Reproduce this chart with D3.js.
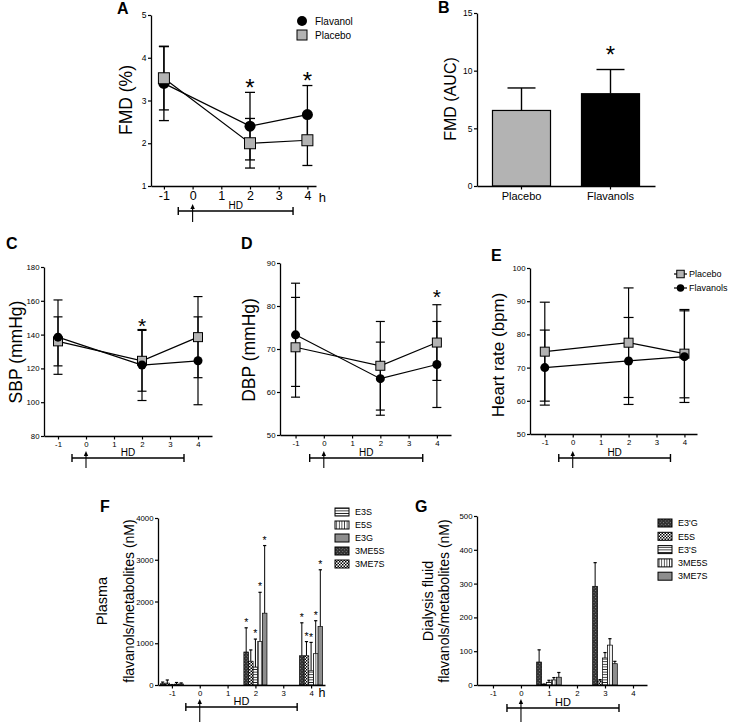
<!DOCTYPE html>
<html><head><meta charset="utf-8">
<script src="https://cdn.jsdelivr.net/npm/d3@7"></script>
<style>body{margin:0;background:#fff} svg{display:block}</style>
</head><body>
<script>
// ===================== DATA =====================
const xTickValues = [-1, 0, 1, 2, 3, 4];
const timePoints = [-1, 2, 4];

// A: FMD (%)
const fmdFlavanol   = [3.40, 2.40, 2.67];
const fmdFlavanolSD = [0.87, 0.79, 0.68];
const fmdPlacebo    = [3.52, 2.00, 2.07];
const fmdPlaceboSD  = [0.74, 0.58, 0.59];
const fmdSigTimes   = [2, 4];
const fmdYTicks     = [1, 2, 3, 4, 5];

// B: FMD (AUC)
const aucGroups = ["Placebo", "Flavanols"];
const aucValues = [6.55, 8.0];
const aucSD     = [1.95, 2.1];
const aucSig    = ["Flavanols"];
const aucYTicks = [0, 5, 10, 15];

// C: SBP
const sbpFlavanol   = [138.5, 122, 124.5];
const sbpFlavanolSD = [22, 21, 26];
const sbpPlacebo    = [136, 124.5, 138.5];
const sbpPlaceboSD  = [14.5, 18, 24];
const sbpSigTimes   = [2];
const sbpYTicks     = [80, 100, 120, 140, 160, 180];

// D: DBP
const dbpFlavanol   = [73.3, 63.1, 66.4];
const dbpFlavanolSD = [12, 8.5, 10];
const dbpPlacebo    = [70.4, 66.1, 71.5];
const dbpPlaceboSD  = [11.6, 10.3, 8.8];
const dbpSigTimes   = [4];
const dbpYTicks     = [50, 60, 70, 80, 90];

// E: Heart rate
const hrFlavanol   = [70, 72, 73.3];
const hrFlavanolSD = [11.3, 13.1, 13.8];
const hrPlacebo    = [74.8, 77.5, 74.2];
const hrPlaceboSD  = [14.9, 16.5, 13.3];
const hrSigTimes   = [];
const hrYTicks     = [50, 60, 70, 80, 90, 100];

// F: Plasma flavanols/metabolites
const plasmaTimes    = [-1, 2, 4];
const plasmaSeries   = ["E3S", "E5S", "E3G", "3ME5S", "3ME7S"];
const plasmaBarOrder = ["3ME5S", "3ME7S", "E3S", "E5S", "E3G"];
const plasmaE3S     = [3, 430, 340];    const plasmaE3SSD   = [8, 670, 680];
const plasmaE5S     = [20, 1040, 750];  const plasmaE5SSD   = [40, 1180, 790];
const plasmaE3G     = [25, 1720, 1400]; const plasmaE3GSD   = [25, 1620, 1360];
const plasma3ME5S   = [30, 790, 700];   const plasma3ME5SSD = [40, 580, 790];
const plasma3ME7S   = [45, 570, 700];   const plasma3ME7SSD = [75, 270, 340];
const plasmaSig = [[2,"3ME5S"],[2,"E3S"],[2,"E5S"],[2,"E3G"],[4,"3ME5S"],[4,"3ME7S"],[4,"E3S"],[4,"E5S"],[4,"E3G"]];
const plasmaYTicks = [0, 1000, 2000, 3000, 4000];

// G: Dialysis fluid flavanols/metabolites
const dialysisTimes  = [1, 3];
const dialysisSeries = ["E3'G", "E5S", "E3'S", "3ME5S", "3ME7S"];
const dialysisE3G   = [68, 292];  const dialysisE3GSD   = [36, 70];
const dialysisE5S   = [2, 12];    const dialysisE5SSD   = [1, 4];
const dialysisE3S   = [8, 80];    const dialysisE3SSD   = [6, 16];
const dialysis3ME5S = [15, 118];  const dialysis3ME5SSD = [7, 19];
const dialysis3ME7S = [23, 63];   const dialysis3ME7SSD = [14, 7];
const dialysisSig = [];
const dialysisYTicks = [0, 100, 200, 300, 400, 500];

// ===================== DRAWING =====================
const W = 734, H = 722;
const FONT = '"Liberation Sans", Arial, Helvetica, sans-serif';
const GRAY = '#b3b3b3';
const svg = d3.select("body").append("svg").attr("width", W).attr("height", H)
  .attr("font-family", FONT);
svg.append("rect").attr("width", W).attr("height", H).attr("fill", "#fff");

// patterns
const defs = svg.append("defs");
function pat(id, w, h, rot) {
  const p = defs.append("pattern").attr("id", id).attr("patternUnits", "userSpaceOnUse")
    .attr("width", w).attr("height", h);
  if (rot) p.attr("patternTransform", `rotate(${rot})`);
  return p;
}
let p = pat("hlines", 4, 2.6);
p.append("rect").attr("width", 4).attr("height", 2.6).attr("fill", "#fff");
p.append("line").attr("x1", 0).attr("x2", 4).attr("y1", 1.3).attr("y2", 1.3).attr("stroke", "#000").attr("stroke-width", 0.8);
p = pat("vlines", 2.6, 4);
p.append("rect").attr("width", 2.6).attr("height", 4).attr("fill", "#fff");
p.append("line").attr("y1", 0).attr("y2", 4).attr("x1", 1.3).attr("x2", 1.3).attr("stroke", "#000").attr("stroke-width", 0.7);
p = pat("diag", 2, 2, 45);
p.append("rect").attr("width", 2).attr("height", 2).attr("fill", "#c8c8c8");
p.append("line").attr("y1", 0).attr("y2", 2).attr("x1", 1).attr("x2", 1).attr("stroke", "#444").attr("stroke-width", 0.9);
p = pat("cross", 2.4, 2.4, 45);
p.append("rect").attr("width", 2.4).attr("height", 2.4).attr("fill", "#333");
p.append("rect").attr("x", 0.9).attr("y", 0.9).attr("width", 0.7).attr("height", 0.7).attr("fill", "#bbb");
p = pat("checker", 3, 3);
p.append("rect").attr("width", 3).attr("height", 3).attr("fill", "#fff");
p.append("rect").attr("width", 1.5).attr("height", 1.5).attr("fill", "#000");
p.append("rect").attr("x", 1.5).attr("y", 1.5).attr("width", 1.5).attr("height", 1.5).attr("fill", "#000");

function styleAxis(sel, fs) {
  sel.attr("font-family", FONT).attr("font-size", fs);
  sel.select(".domain").attr("stroke", "#000").attr("stroke-width", 1.3);
  sel.selectAll(".tick line").attr("stroke", "#000").attr("stroke-width", 1.2);
  sel.selectAll(".tick text").attr("fill", "#000");
}
function letter(t, x, y) {
  svg.append("text").attr("x", x).attr("y", y).attr("font-size", 16).attr("font-weight", "bold").text(t);
}
function yLabel(t, x, y, fs) {
  svg.append("text").attr("transform", `translate(${x},${y}) rotate(-90)`)
    .attr("text-anchor", "middle").attr("dominant-baseline", "central")
    .attr("font-size", fs).text(t);
}
function asterisk(cx, cy, fs) {
  svg.append("text").attr("x", cx).attr("y", cy + 0.585 * fs).attr("text-anchor", "middle")
    .attr("font-size", fs).text("*");
}
function marker(shape, cx, cy, size) {
  if (shape === "circle")
    svg.append("circle").attr("cx", cx).attr("cy", cy).attr("r", size / 2).attr("fill", "#000");
  else
    svg.append("rect").attr("x", cx - size / 2).attr("y", cy - size / 2).attr("width", size).attr("height", size)
      .attr("fill", GRAY).attr("stroke", "#000").attr("stroke-width", 1);
}
function hdBracket(x, yb, tipY, botY, fs) {
  const x0 = x(-0.5), x1 = x(3.5), xa = x(0);
  const g = svg.append("g").attr("stroke", "#000").attr("stroke-width", 1.4);
  g.append("line").attr("x1", x0).attr("x2", x1).attr("y1", yb).attr("y2", yb);
  g.append("line").attr("x1", x0).attr("x2", x0).attr("y1", yb - 4).attr("y2", yb + 4);
  g.append("line").attr("x1", x1).attr("x2", x1).attr("y1", yb - 4).attr("y2", yb + 4);
  g.append("line").attr("x1", xa).attr("x2", xa).attr("y1", botY).attr("y2", tipY + 3).attr("stroke-width", 1.1);
  svg.append("path").attr("d", `M${xa},${tipY}L${xa - 2.2},${tipY + 5}L${xa + 2.2},${tipY + 5}Z`).attr("fill", "#000");
  svg.append("text").attr("x", x(1.5)).attr("y", yb - 2.5).attr("text-anchor", "middle").attr("font-size", fs).text("HD");
}

function linePanel(o) {
  const x = d3.scaleLinear().domain(o.xDomain).range(o.xRange);
  const y = d3.scaleLinear().domain(o.yDomain).range(o.yRange);
  const ya = svg.append("g").attr("transform", `translate(${o.xRange[0]},0)`)
    .call(d3.axisLeft(y).tickValues(o.yTicks).tickSize(3).tickSizeOuter(0).tickPadding(1.5).tickFormat(d3.format("d")));
  styleAxis(ya, o.yTickFs);
  const xa = svg.append("g").attr("transform", `translate(0,${o.yRange[0]})`)
    .call(d3.axisBottom(x).tickValues(xTickValues).tickSize(3.5).tickSizeOuter(0).tickPadding(o.xTickPad).tickFormat(d => String(d)));
  styleAxis(xa, o.xTickFs);
  const lineGen = d3.line().x((d, i) => x(timePoints[i])).y(d => y(d));
  o.series.forEach(s => {
    svg.append("path").datum(s.vals).attr("d", lineGen).attr("fill", "none").attr("stroke", "#000").attr("stroke-width", 1.2);
  });
  const eg = svg.append("g").attr("stroke", "#000").attr("stroke-width", o.ew);
  o.series.forEach(s => {
    s.vals.forEach((v, i) => {
      const cx = x(timePoints[i]), y1 = y(v + s.sd[i]), y0 = y(v - s.sd[i]);
      eg.append("line").attr("x1", cx).attr("x2", cx).attr("y1", y0).attr("y2", y1);
      [y0, y1].forEach(yy => eg.append("line").attr("x1", cx - o.cap / 2).attr("x2", cx + o.cap / 2).attr("y1", yy).attr("y2", yy));
    });
  });
  o.series.forEach(s => s.vals.forEach((v, i) => marker(s.shape, x(timePoints[i]), y(v), s.shape === "circle" ? o.cSize : o.sSize)));
  o.sigTimes.forEach(t => {
    const i = timePoints.indexOf(t);
    const top = d3.max(o.series, s => s.vals[i] + s.sd[i]);
    asterisk(x(t), y(top) - o.sigOff, o.sigFs);
  });
  return { x, y };
}

// ---------- Panel A ----------
{
  const { x } = linePanel({
    xDomain: [-1.45, 4.3], xRange: [151, 316], yDomain: [1, 5], yRange: [186, 15],
    yTicks: fmdYTicks, yTickFs: 8.5, xTickFs: 12.5, xTickPad: 2,
    series: [
      { vals: fmdFlavanol, sd: fmdFlavanolSD, shape: "circle" },
      { vals: fmdPlacebo, sd: fmdPlaceboSD, shape: "square" }
    ],
    cap: 10, ew: 1.3, cSize: 11, sSize: 11, sigTimes: fmdSigTimes, sigOff: 10.5, sigFs: 24
  });
  svg.append("text").attr("x", x(4) + 15).attr("y", 202).attr("text-anchor", "middle").attr("font-size", 13).text("h");
  hdBracket(x, 211, 204, 222, 10);
  letter("A", 117, 14);
  yLabel("FMD (%)", 126, 100, 17.5);
  marker("circle", 302, 21, 10);
  svg.append("text").attr("x", 315).attr("y", 24.5).attr("font-size", 10).text("Flavanol");
  marker("square", 302, 35, 10);
  svg.append("text").attr("x", 315).attr("y", 38.5).attr("font-size", 10).text("Placebo");
}

// ---------- Panel B ----------
{
  const x = d3.scaleBand().domain(aucGroups).range([477, 655]).paddingInner(0.348).paddingOuter(0.174);
  const y = d3.scaleLinear().domain([0, 15]).range([186, 13]);
  const colors = { "Placebo": GRAY, "Flavanols": "#000" };
  aucGroups.forEach((gname, i) => {
    const cx = x(gname) + x.bandwidth() / 2, top = y(aucValues[i] + aucSD[i]);
    const eg = svg.append("g").attr("stroke", "#000").attr("stroke-width", 1.4);
    eg.append("line").attr("x1", cx).attr("x2", cx).attr("y1", y(aucValues[i])).attr("y2", top);
    eg.append("line").attr("x1", cx - 14).attr("x2", cx + 14).attr("y1", top).attr("y2", top);
    svg.append("rect").attr("x", x(gname)).attr("y", y(aucValues[i])).attr("width", x.bandwidth())
      .attr("height", y(0) - y(aucValues[i])).attr("fill", colors[gname]).attr("stroke", "#000").attr("stroke-width", 1.2);
    if (aucSig.includes(gname)) asterisk(cx, top - 21, 24);
  });
  const ya = svg.append("g").attr("transform", "translate(477,0)")
    .call(d3.axisLeft(y).tickValues(aucYTicks).tickSize(3).tickSizeOuter(0).tickPadding(1.5));
  styleAxis(ya, 8.5);
  const xa = svg.append("g").attr("transform", "translate(0,186)")
    .call(d3.axisBottom(x).tickSize(3.5).tickSizeOuter(0).tickPadding(3));
  styleAxis(xa, 11);
  letter("B", 438, 13);
  yLabel("FMD (AUC)", 450, 99, 16);
}

// ---------- Panels C, D, E ----------
{
  const c = linePanel({
    xDomain: [-1.5, 4.5], xRange: [44, 212], yDomain: [80, 180], yRange: [436, 267],
    yTicks: sbpYTicks, yTickFs: 7.8, xTickFs: 7.8, xTickPad: 2,
    series: [
      { vals: sbpPlacebo, sd: sbpPlaceboSD, shape: "square" },
      { vals: sbpFlavanol, sd: sbpFlavanolSD, shape: "circle" }
    ],
    cap: 9, ew: 1.2, cSize: 9, sSize: 9, sigTimes: sbpSigTimes, sigOff: 8.5, sigFs: 21
  });
  hdBracket(c.x, 458, 451, 468, 10);
  letter("C", 6, 249);
  yLabel("SBP (mmHg)", 16, 352, 17.5);

  const d = linePanel({
    xDomain: [-1.55, 4.5], xRange: [280, 451], yDomain: [50, 90], yRange: [435, 263],
    yTicks: dbpYTicks, yTickFs: 7.8, xTickFs: 7.8, xTickPad: 2,
    series: [
      { vals: dbpPlacebo, sd: dbpPlaceboSD, shape: "square" },
      { vals: dbpFlavanol, sd: dbpFlavanolSD, shape: "circle" }
    ],
    cap: 9, ew: 1.2, cSize: 9, sSize: 9, sigTimes: dbpSigTimes, sigOff: 13, sigFs: 21
  });
  hdBracket(d.x, 458, 451, 468, 10);
  letter("D", 241, 249);
  yLabel("DBP (mmHg)", 249, 350, 17.5);

  const e = linePanel({
    xDomain: [-1.53, 4.45], xRange: [530, 697], yDomain: [50, 100], yRange: [434, 268],
    yTicks: hrYTicks, yTickFs: 7.8, xTickFs: 7.8, xTickPad: 2,
    series: [
      { vals: hrPlacebo, sd: hrPlaceboSD, shape: "square" },
      { vals: hrFlavanol, sd: hrFlavanolSD, shape: "circle" }
    ],
    cap: 10, ew: 1.2, cSize: 9, sSize: 9, sigTimes: hrSigTimes, sigOff: 10, sigFs: 21
  });
  hdBracket(e.x, 458, 451, 468, 10);
  letter("E", 491, 261);
  yLabel("Heart rate (bpm)", 498, 355, 17);
  [["square", "Placebo", 274], ["circle", "Flavanols", 288]].forEach(([sh, t, yy]) => {
    svg.append("line").attr("x1", 674).attr("x2", 687).attr("y1", yy).attr("y2", yy).attr("stroke", "#000").attr("stroke-width", 1.2);
    marker(sh, 680.5, yy, 7.5);
    svg.append("text").attr("x", 689).attr("y", yy + 3.2).attr("font-size", 9).text(t);
  });
}

// ---------- Bar panels F, G ----------
function barPanel(o) {
  const x = d3.scaleLinear().domain(o.xDomain).range(o.xRange);
  const y = d3.scaleLinear().domain(o.yDomain).range(o.yRange);
  const gw = x(o.groupUnits) - x(0);
  const inner = d3.scaleBand().domain(o.order).range([-gw / 2, gw / 2]);
  o.times.forEach((t, ti) => {
    o.order.forEach(s => {
      const v = o.values[s][ti], e = o.sds[s][ti];
      const bx = x(t) + inner(s), cx = bx + inner.bandwidth() / 2, top = y(v + e);
      svg.append("line").attr("x1", cx).attr("x2", cx).attr("y1", y(v)).attr("y2", top).attr("stroke", "#000").attr("stroke-width", 1);
      svg.append("line").attr("x1", cx - 1.6).attr("x2", cx + 1.6).attr("y1", top).attr("y2", top).attr("stroke", "#000").attr("stroke-width", 1.2);
      svg.append("rect").attr("x", bx).attr("y", y(v)).attr("width", inner.bandwidth()).attr("height", y(0) - y(v))
        .attr("fill", `url(#${o.patterns[s]})`).attr("stroke", "#000").attr("stroke-width", 0.7);
    });
  });
  o.sig.forEach(([t, s]) => {
    const ti = o.times.indexOf(t);
    const cx = x(t) + inner(s) + inner.bandwidth() / 2;
    asterisk(cx, y(o.values[s][ti] + o.sds[s][ti]) - 8, 10.5);
  });
  const ya = svg.append("g").attr("transform", `translate(${o.xRange[0]},0)`)
    .call(d3.axisLeft(y).tickValues(o.yTicks).tickSize(3).tickSizeOuter(0).tickPadding(1.5).tickFormat(d3.format("d")));
  styleAxis(ya, 7.8);
  const xa = svg.append("g").attr("transform", `translate(0,${o.yRange[0]})`)
    .call(d3.axisBottom(x).tickValues(xTickValues).tickSize(3.5).tickSizeOuter(0).tickPadding(2).tickFormat(d => String(d)));
  styleAxis(xa, 7.8);
  o.series.forEach((s, i) => {
    const ly = o.legendY + i * o.legendStep;
    svg.append("rect").attr("x", o.legendX).attr("y", ly - 4).attr("width", 14).attr("height", 8)
      .attr("fill", `url(#${o.patterns[s]})`).attr("stroke", "#000").attr("stroke-width", 1);
    svg.append("text").attr("x", o.legendX + 20).attr("y", ly + 3.2).attr("font-size", 9).text(s);
  });
  return { x, y };
}

{
  const f = barPanel({
    xDomain: [-1.5, 4.5], xRange: [158, 325], yDomain: [0, 4000], yRange: [685, 518],
    yTicks: plasmaYTicks, times: plasmaTimes, order: plasmaBarOrder, series: plasmaSeries, groupUnits: 0.83,
    values: { "E3S": plasmaE3S, "E5S": plasmaE5S, "E3G": plasmaE3G, "3ME5S": plasma3ME5S, "3ME7S": plasma3ME7S },
    sds: { "E3S": plasmaE3SSD, "E5S": plasmaE5SSD, "E3G": plasmaE3GSD, "3ME5S": plasma3ME5SSD, "3ME7S": plasma3ME7SSD },
    patterns: { "E3S": "hlines", "E5S": "vlines", "E3G": "diag", "3ME5S": "cross", "3ME7S": "checker" },
    sig: plasmaSig, legendX: 335, legendY: 512, legendStep: 13
  });
  svg.append("text").attr("x", f.x(4) + 11).attr("y", 696.5).attr("text-anchor", "middle").attr("font-size", 12.5).text("h");
  hdBracket(f.x, 707, 699, 722, 11);
  letter("F", 100, 512);
  yLabel("Plasma", 102, 601, 14.5);
  yLabel("flavanols/metabolites (nM)", 129, 601, 14);

  const g = barPanel({
    xDomain: [-1.57, 4.5], xRange: [477, 647], yDomain: [0, 500], yRange: [685, 516],
    yTicks: dialysisYTicks, times: dialysisTimes, order: dialysisSeries, series: dialysisSeries, groupUnits: 0.88,
    values: { "E3'G": dialysisE3G, "E5S": dialysisE5S, "E3'S": dialysisE3S, "3ME5S": dialysis3ME5S, "3ME7S": dialysis3ME7S },
    sds: { "E3'G": dialysisE3GSD, "E5S": dialysisE5SSD, "E3'S": dialysisE3SSD, "3ME5S": dialysis3ME5SSD, "3ME7S": dialysis3ME7SSD },
    patterns: { "E3'G": "cross", "E5S": "checker", "E3'S": "hlines", "3ME5S": "vlines", "3ME7S": "diag" },
    sig: dialysisSig, legendX: 658, legendY: 523, legendStep: 13.3
  });
  hdBracket(g.x, 708, 699, 722, 11);
  letter("G", 415, 512);
  yLabel("Dialysis fluid", 428, 601, 14.5);
  yLabel("flavanols/metabolites (nM)", 444, 601, 14);
}
</script>
</body></html>
